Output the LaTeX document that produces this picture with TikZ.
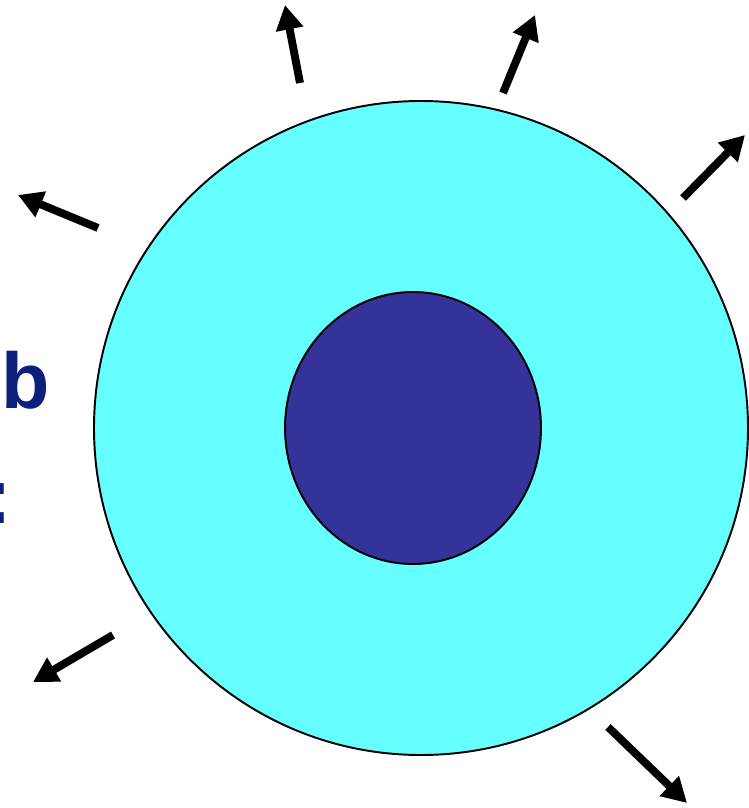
\documentclass[tikz,border=0pt]{standalone}
\usepackage{fontspec}
\setmainfont{Liberation Sans}
\usepackage{xcolor}
\usetikzlibrary{arrows.meta}

\definecolor{shellcyan}{HTML}{66FFFF}
\definecolor{corenavy}{HTML}{333399}
\definecolor{labelblue}{HTML}{0B1F7C}

\begin{document}
\begin{tikzpicture}[
        x=0.02cm, y=-0.02cm,
        ray/.style={-{Triangle[length=14pt, width=15pt]}, line width=4.5pt},
        lbl/.style={font=\fontsize{45}{50}\selectfont\bfseries, text=labelblue, inner sep=0pt},
    ]

        \useasboundingbox (0,0) rectangle (749,808);
        \clip (0,0) rectangle (749,808);

        \draw[fill=shellcyan, line width=1.1pt] (421,428) circle (327);
        \draw[fill=corenavy, line width=1.1pt] (413,428) ellipse (128 and 136);

        \node[lbl, anchor=base west] (lb) at (1,408) {b};
        \node[lbl, anchor=base east] (lc) at (12,523) {:};

        \draw[ray] (300,83) -- (285,5);
        \draw[ray] (503,93) -- (535,15);
        \draw[ray] (683,198) -- (745,135);
        \draw[ray] (98,228) -- (18,195);
        \draw[ray] (113,635) -- (33,682);
        \draw[ray] (608,727) -- (687,803);

    \end{tikzpicture}
\end{document}
